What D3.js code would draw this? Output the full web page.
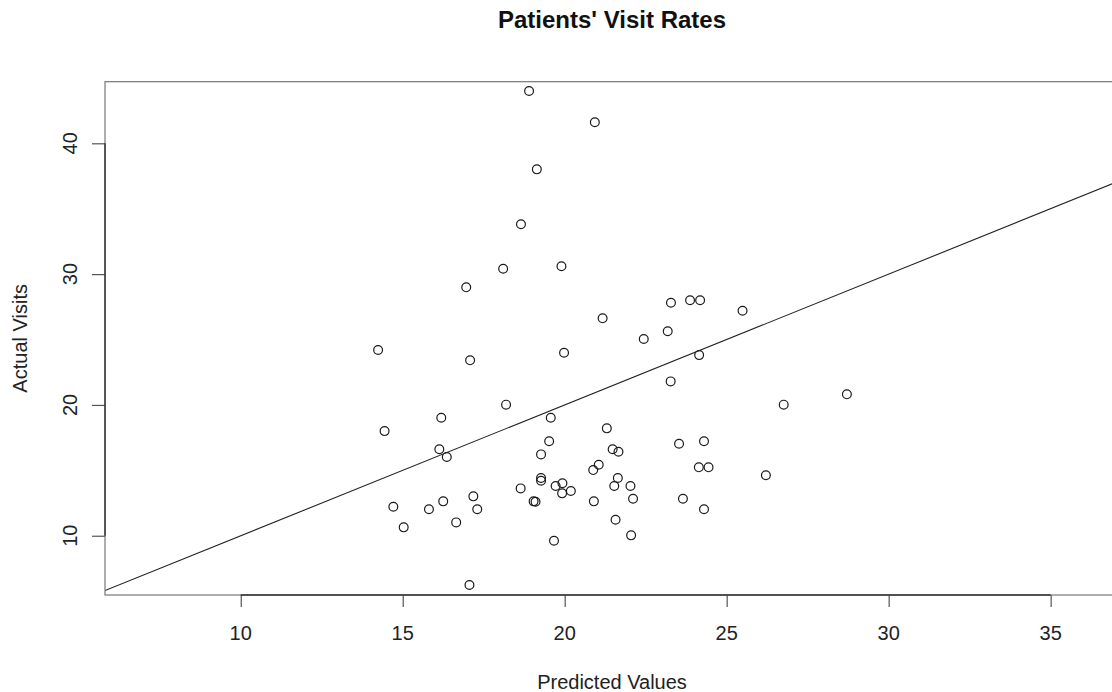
<!DOCTYPE html>
<html>
<head>
<meta charset="utf-8">
<script src="https://cdn.jsdelivr.net/npm/d3@7/dist/d3.min.js"></script>
<style>
  html, body { margin: 0; padding: 0; background: #fff; }
  svg { display: block; font-family: Arial, "Liberation Sans", Helvetica, sans-serif; }
</style>
</head>
<body>
<svg id="chart" width="1112" height="692"></svg>
<script>
// ---- Data ----
const title = "Patients' Visit Rates";
const xLabel = "Predicted Values";
const yLabel = "Actual Visits";
const xTicks = [10, 15, 20, 25, 30, 35];
const yTicks = [10, 20, 30, 40];
const xDomain = [5.81, 37.11];
const yDomain = [5.47, 44.71];
const lineIntercept = 0;
const lineSlope = 1;

const predicted = [
  14.24, 14.44, 16.19, 18.19, 19.57, 21.30, 16.13, 16.36, 19.52, 19.27,
  21.48, 21.66, 20.88, 21.05, 19.27, 19.27, 18.64, 19.72, 19.93, 19.92,
  20.19, 21.64, 21.53, 22.03, 22.11, 19.04, 19.10, 20.90, 14.71, 15.81,
  16.25, 17.18, 17.30, 15.03, 16.65, 19.67, 21.57, 22.05, 17.06, 23.53,
  24.30, 24.14, 24.44, 26.21, 23.65, 24.30, 28.71, 26.76, 23.27, 18.90,
  20.93, 19.14, 18.65, 18.10, 19.90, 16.96, 21.17, 22.44, 19.98, 17.08,
  23.28, 23.87, 24.18, 25.49, 23.18, 24.15
];
const actual = [
  24.20, 18.00, 19.02, 20.02, 19.02, 18.21, 16.61, 16.02, 17.22, 16.22,
  16.61, 16.42, 15.02, 15.43, 14.41, 14.20, 13.62, 13.80, 14.01, 13.24,
  13.42, 14.41, 13.80, 13.80, 12.83, 12.63, 12.60, 12.63, 12.22, 12.02,
  12.63, 13.01, 12.02, 10.64, 11.02,  9.62, 11.22, 10.03,  6.23, 17.03,
  17.22, 15.23, 15.23, 14.62, 12.83, 12.02, 20.81, 20.02, 21.80, 44.00,
  41.61, 38.01, 33.81, 30.41, 30.60, 28.99, 26.62, 25.04, 23.99, 23.41,
  27.81, 28.00, 28.00, 27.20, 25.63, 23.81
];
const points = predicted.map((p, i) => ({ x: p, y: actual[i] }));

// ---- Layout ----
const W = 1112, H = 692;
const plot = { left: 105, right: 1119, top: 81.7, bottom: 595 };

const svg = d3.select("#chart");
svg.append("rect").attr("width", W).attr("height", H).attr("fill", "#fff");

const x = d3.scaleLinear().domain(xDomain).range([plot.left, plot.right]);
const y = d3.scaleLinear().domain(yDomain).range([plot.bottom, plot.top]);

// clip
svg.append("defs").append("clipPath").attr("id", "clip")
  .append("rect")
  .attr("x", plot.left).attr("y", plot.top)
  .attr("width", plot.right - plot.left).attr("height", plot.bottom - plot.top);

// points
svg.append("g").attr("clip-path", "url(#clip)")
  .selectAll("circle").data(points).join("circle")
  .attr("cx", d => x(d.x))
  .attr("cy", d => y(d.y))
  .attr("r", 4.4)
  .attr("fill", "none")
  .attr("stroke", "#1a1a1a")
  .attr("stroke-width", 1.2);

// reference line y = a + b x
const lx = x.domain();
svg.append("g").attr("clip-path", "url(#clip)")
  .append("line")
  .attr("x1", x(lx[0])).attr("y1", y(lineIntercept + lineSlope * lx[0]))
  .attr("x2", x(lx[1])).attr("y2", y(lineIntercept + lineSlope * lx[1]))
  .attr("stroke", "#222").attr("stroke-width", 1.1);

// box
svg.append("rect")
  .attr("x", plot.left).attr("y", plot.top)
  .attr("width", plot.right - plot.left).attr("height", plot.bottom - plot.top)
  .attr("fill", "none").attr("stroke", "#777").attr("stroke-width", 1.2);

// x axis
const xAxis = d3.axisBottom(x).tickValues(xTicks).tickSize(12).tickFormat("");
const gx = svg.append("g").attr("transform", `translate(0,${plot.bottom})`).call(xAxis);
gx.select(".domain").remove();
gx.selectAll(".tick line").attr("stroke", "#555").attr("stroke-width", 1.2);
gx.append("line")
  .attr("x1", x(xTicks[0])).attr("x2", x(xTicks[xTicks.length - 1]))
  .attr("y1", 0).attr("y2", 0)
  .attr("stroke", "#333").attr("stroke-width", 1.4);
svg.append("g").selectAll("text").data(xTicks).join("text")
  .attr("x", d => x(d)).attr("y", 640)
  .attr("text-anchor", "middle")
  .attr("font-size", 20).attr("fill", "#222")
  .text(d => d);

// y axis
const yAxis = d3.axisLeft(y).tickValues(yTicks).tickSize(13).tickFormat("");
const gy = svg.append("g").attr("transform", `translate(${plot.left},0)`).call(yAxis);
gy.select(".domain").remove();
gy.selectAll(".tick line").attr("stroke", "#555").attr("stroke-width", 1.2);
gy.append("line")
  .attr("y1", y(yTicks[0])).attr("y2", y(yTicks[yTicks.length - 1]))
  .attr("x1", 0).attr("x2", 0)
  .attr("stroke", "#333").attr("stroke-width", 1.4);
svg.append("g").selectAll("text").data(yTicks).join("text")
  .attr("transform", d => `translate(77,${y(d)}) rotate(-90)`)
  .attr("text-anchor", "middle")
  .attr("font-size", 20).attr("fill", "#222")
  .text(d => d);

// titles
svg.append("text")
  .attr("x", (plot.left + plot.right) / 2).attr("y", 28)
  .attr("text-anchor", "middle")
  .attr("font-size", 24).attr("font-weight", "bold").attr("fill", "#111")
  .text(title);

svg.append("text")
  .attr("x", (plot.left + plot.right) / 2).attr("y", 689)
  .attr("text-anchor", "middle")
  .attr("font-size", 20).attr("fill", "#222")
  .text(xLabel);

svg.append("text")
  .attr("transform", `translate(27,${(plot.top + plot.bottom) / 2}) rotate(-90)`)
  .attr("text-anchor", "middle")
  .attr("font-size", 20).attr("fill", "#222")
  .text(yLabel);
</script>
</body>
</html>
